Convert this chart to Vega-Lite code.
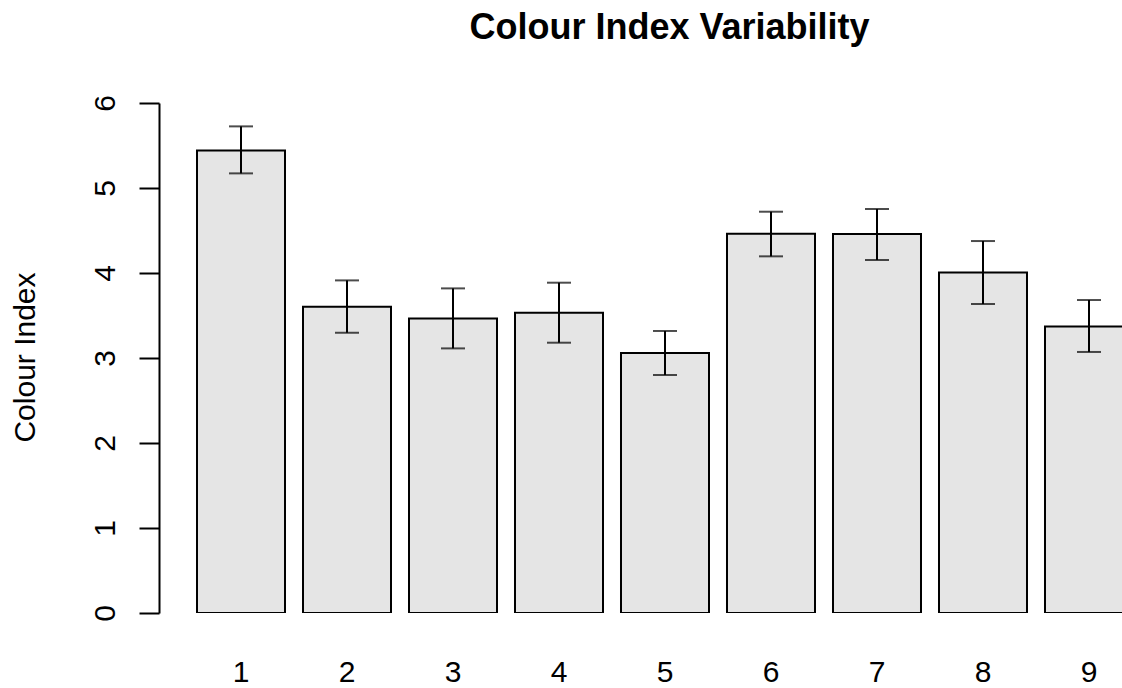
{
  "$schema": "https://vega.github.io/schema/vega-lite/v6.json",
  "autosize": "none",
  "width": 963,
  "height": 510,
  "padding": {"left": 159, "top": 103, "right": 0, "bottom": 75},
  "background": "white",
  "config": {"view": {"stroke": null}, "font": "Liberation Sans"},
  "title": {
    "text": "Colour Index Variability",
    "font": "Liberation Sans",
    "fontSize": 36,
    "fontWeight": "bold",
    "color": "black",
    "anchor": "middle",
    "baseline": "alphabetic",
    "offset": 20,
    "dx": 29
  },
  "data": {
    "values": [
      {"group": "1", "mean": 5.442, "lo": 5.172, "hi": 5.725},
      {"group": "2", "mean": 3.604, "lo": 3.297, "hi": 3.913},
      {"group": "3", "mean": 3.466, "lo": 3.113, "hi": 3.819},
      {"group": "4", "mean": 3.533, "lo": 3.180, "hi": 3.886},
      {"group": "5", "mean": 3.059, "lo": 2.800, "hi": 3.318},
      {"group": "6", "mean": 4.462, "lo": 4.196, "hi": 4.721},
      {"group": "7", "mean": 4.459, "lo": 4.153, "hi": 4.753},
      {"group": "8", "mean": 4.007, "lo": 3.635, "hi": 4.376},
      {"group": "9", "mean": 3.372, "lo": 3.071, "hi": 3.682}
    ]
  },
  "encoding": {
    "x": {
      "field": "group",
      "type": "ordinal",
      "sort": null,
      "scale": {"range": [0, 1012], "paddingInner": 0.1698, "paddingOuter": 0.3585},
      "axis": {
        "title": null,
        "domain": false,
        "ticks": false,
        "tickSize": 0,
        "labelAngle": 0,
        "labelFont": "Liberation Sans",
        "labelFontSize": 30,
        "labelColor": "black",
        "labelBaseline": "alphabetic",
        "labelPadding": 68,
        "labelFlush": false,
        "labelOverlap": false
      }
    }
  },
  "layer": [
    {
      "mark": {"type": "bar", "fill": "#e5e5e5", "stroke": "black", "strokeWidth": 2, "clip": true},
      "encoding": {
        "y": {
          "field": "mean",
          "type": "quantitative",
          "scale": {"domain": [0, 6], "nice": false, "zero": true},
          "axis": {
            "title": "Colour Index",
            "titleFont": "Liberation Sans",
            "titleFontSize": 30,
            "titleFontWeight": "normal",
            "titleColor": "black",
            "titleAngle": 270,
            "titleAlign": "center",
            "titleBaseline": "alphabetic",
            "titleX": -125,
            "titleY": 254,
            "values": [0, 1, 2, 3, 4, 5, 6],
            "format": "d",
            "grid": false,
            "domain": true,
            "domainColor": "black",
            "domainWidth": 2,
            "ticks": true,
            "tickColor": "black",
            "tickWidth": 2,
            "tickSize": 20,
            "labelAngle": 270,
            "labelAlign": "center",
            "labelBaseline": "alphabetic",
            "labelPadding": 25,
            "labelFont": "Liberation Sans",
            "labelFontSize": 30,
            "labelColor": "black",
            "labelFlush": false,
            "labelOverlap": false
          }
        }
      }
    },
    {
      "mark": {"type": "rule", "color": "black", "strokeWidth": 2, "clip": true},
      "encoding": {
        "y": {"field": "lo", "type": "quantitative"},
        "y2": {"field": "hi"}
      }
    },
    {
      "mark": {"type": "tick", "color": "black", "size": 24, "thickness": 2, "clip": true},
      "encoding": {"y": {"field": "lo", "type": "quantitative"}}
    },
    {
      "mark": {"type": "tick", "color": "black", "size": 24, "thickness": 2, "clip": true},
      "encoding": {"y": {"field": "hi", "type": "quantitative"}}
    }
  ]
}
